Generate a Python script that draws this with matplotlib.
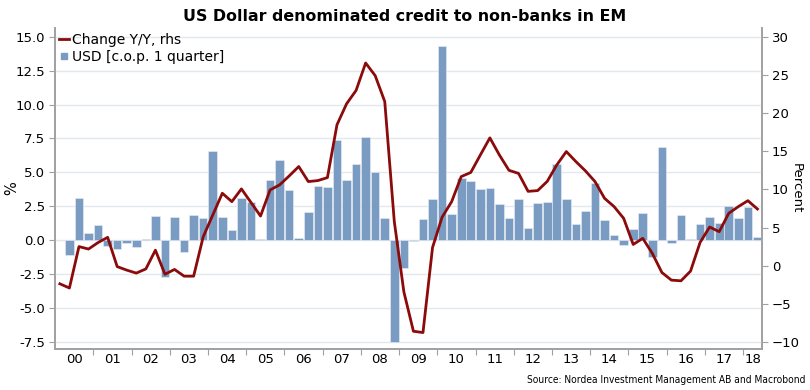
import numpy as np
import matplotlib
matplotlib.use("Agg")
import matplotlib.pyplot as plt
from matplotlib.lines import Line2D

# quarterly data, 2000Q1 .. 2018Q2
usd_qoq = [np.nan, -1.08, 3.12, 0.57, 1.13, -0.42, -0.61, -0.2, -0.47, 0.07,
           1.82, -2.7, 1.72, -0.84, 1.84, 1.67, 6.58, 1.7, 0.74, 3.14,
           2.8, 0.12, 4.45, 5.92, 3.73, 0.17, 2.1, 4.03, 3.9, 7.37,
           4.47, 5.65, 7.62, 5.01, 1.62, -7.49, -2.06, -0.02, 1.6, 3.07,
           14.28, 1.94, 4.6, 4.35, 3.76, 3.83, 2.65, 1.62, 3.02, 0.91,
           2.73, 2.8, 5.63, 3.02, 1.2, 2.14, 4.25, 1.5, 0.42, -0.34,
           0.84, 2.04, -1.2, 6.88, -0.17, 1.9, 0.1, 1.2, 1.72, 1.28,
           2.51, 1.67, 2.48, 0.22]
change_yy = [-2.35, -2.9, 2.52, 2.2, 3.05, 3.73, -0.1, -0.56, -0.95, -0.4,
             2.05, -1.1, -0.47, -1.35, -1.35, 3.8, 6.65, 9.5, 8.4, 10.07,
             8.3, 6.52, 9.93, 10.6, 11.77, 13.0, 11.03, 11.16, 11.55, 18.46,
             21.2, 22.96, 26.55, 24.89, 21.5, 5.78, -3.4, -8.56, -8.73, 2.4,
             6.37, 8.4, 11.68, 12.22, 14.5, 16.75, 14.5, 12.5, 12.1, 9.75,
             9.85, 11.05, 13.2, 14.96, 13.65, 12.43, 11.03, 8.84, 7.75, 6.22,
             2.8, 3.6, 1.63, -0.87, -1.87, -1.96, -0.69, 3.07, 5.08, 4.47,
             6.88, 7.75, 8.53, 7.44]
year_labels = ["00", "01", "02", "03", "04", "05", "06", "07", "08", "09",
               "10", "11", "12", "13", "14", "15", "16", "17", "18"]

x = np.arange(len(change_yy))

fig = plt.figure(figsize=(8.1, 3.9), dpi=100)
ax = fig.add_axes([0.068, 0.105, 0.873, 0.822])
ax2 = ax.twinx()

ax.set_zorder(1)
ax.patch.set_visible(False)
ax2.set_zorder(0)

grid_c = "#e3e8ee"
spine_c = "#a0a0a0"
bar_c = "#7a9cc2"
line_c = "#8b0a0a"

ax.bar(x, usd_qoq, width=0.9, color=bar_c, edgecolor="#e8eef5",
       linewidth=0.4, zorder=2)
ax.plot(x, np.array(change_yy) * 9 / 16 - 15 / 8, color=line_c,
        lw=2, zorder=3)

ax.set_xlim(-0.5, 73.5)
ax.set_ylim(-8.0, 15.6)
ax.set_yticks(np.arange(-7.5, 15.1, 2.5))
ax.set_yticklabels([f"{v:.1f}" for v in np.arange(-7.5, 15.1, 2.5)])
ax.grid(axis="y", color=grid_c, lw=1, zorder=0)
ax.set_axisbelow(True)

lo, hi = ax.get_ylim()
ax2.set_ylim(lo * 16 / 9 + 10 / 3, hi * 16 / 9 + 10 / 3)
ax2.set_yticks(np.arange(-10, 31, 5))

# x axis: tick marks at year boundaries, labels at year centres
ax.set_xticks(np.arange(3.5, 72, 4))
ax.set_xticklabels([])
centres = list(np.arange(1.5, 70, 4)) + [72.5]
ax.set_xticks(centres, minor=True)
ax.set_xticklabels(year_labels, minor=True, fontsize=9.5)
ax.tick_params(axis="x", which="major", length=4, color=spine_c)
ax.tick_params(axis="x", which="minor", length=0, pad=3)
ax.tick_params(axis="y", length=4, color=spine_c, labelsize=9.5, pad=3)
ax2.tick_params(axis="y", length=4, color=spine_c, labelsize=9.5, pad=3)

for a in (ax, ax2):
    a.spines["top"].set_visible(False)
    for s in ("left", "right", "bottom"):
        a.spines[s].set_color(spine_c)
        a.spines[s].set_linewidth(1.2)

fig.text(12 / 810, 1 - 188 / 390, "%", rotation=90, ha="center", va="center",
         fontsize=10.5)
fig.text(796 / 810, 1 - 188 / 390, "Percent", rotation=270, ha="center",
         va="center", fontsize=9.5)

handles = [Line2D([], [], color=line_c, lw=2),
           Line2D([], [], color=bar_c, marker="s", markersize=4, lw=0)]
ax.legend(handles, ["Change Y/Y, rhs", "USD [c.o.p. 1 quarter]"],
          loc="upper left", frameon=False, fontsize=10, handlelength=0.7,
          handletextpad=0.25, borderaxespad=0.1, labelspacing=0.25,
          borderpad=0.2)

fig.suptitle("US Dollar denominated credit to non-banks in EM",
             fontsize=11.4, fontweight="bold", y=0.978)
fig.text(0.994, 0.012, "Source: Nordea Investment Management AB and Macrobond",
         ha="right", va="bottom", fontsize=7.3, fontstretch="condensed",
         family=["Liberation Sans Narrow", "DejaVu Sans"])

fig.savefig("out.png", dpi=100)
